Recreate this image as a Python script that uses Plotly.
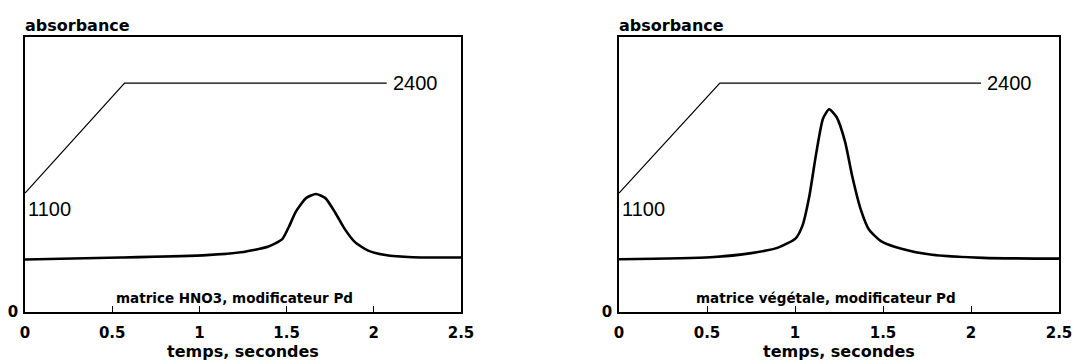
import plotly.graph_objects as go

# ---- data ----
# temperature programme (°C) : times (s) and values
temp_t_left = [0.0, 0.571, 2.074]
temp_v_left = [1100, 2400, 2400]
temp_t_right = [0.0, 0.573, 2.057]
temp_v_right = [1100, 2400, 2400]

# absorbance signal (arbitrary units), matrice HNO3
abs_t_left = [0.0, 0.548, 1.041, 1.238, 1.396, 1.475, 1.514, 1.554, 1.613, 1.668,
              1.721, 1.780, 1.830, 1.889, 1.968, 2.066, 2.224, 2.5]
abs_v_left = [0.191, 0.198, 0.207, 0.217, 0.238, 0.265, 0.311, 0.366, 0.415, 0.429,
              0.415, 0.360, 0.305, 0.256, 0.223, 0.207, 0.199, 0.198]

# absorbance signal (arbitrary units), matrice végétale
abs_t_right = [0.0, 0.519, 0.752, 0.907, 1.004, 1.043, 1.081, 1.120, 1.159, 1.194,
               1.236, 1.285, 1.324, 1.372, 1.420, 1.488, 1.605, 1.779, 2.070, 2.5]
abs_v_right = [0.192, 0.199, 0.214, 0.235, 0.268, 0.315, 0.420, 0.575, 0.703, 0.737,
               0.709, 0.618, 0.497, 0.376, 0.300, 0.258, 0.230, 0.208, 0.197, 0.194]

x_ticks = [0, 0.5, 1, 1.5, 2, 2.5]
x_ticktext = ["0", "0.5", "1", "1.5", "2", "2.5"]
panel_labels = ["matrice HNO3, modificateur Pd", "matrice végétale, modificateur Pd"]
label_t = [1.20, 1.175]
x_title = "temps, secondes"
y_title = "absorbance"

W, H = 1074, 364
TOP, BOT = 37, 312
ABS_RANGE = [0, 1]
TEMP_RANGE = [-306, 2944]

fig = go.Figure()
line_abs = dict(color="black", width=2.6, shape="spline", smoothing=0.6)
line_temp = dict(color="black", width=1.2)

fig.add_trace(go.Scatter(x=abs_t_left, y=abs_v_left, mode="lines", line=line_abs,
                         xaxis="x", yaxis="y", showlegend=False, hoverinfo="skip"))
fig.add_trace(go.Scatter(x=temp_t_left, y=temp_v_left, mode="lines", line=line_temp,
                         xaxis="x", yaxis="y3", showlegend=False, hoverinfo="skip"))
fig.add_trace(go.Scatter(x=abs_t_right, y=abs_v_right, mode="lines", line=line_abs,
                         xaxis="x2", yaxis="y2", showlegend=False, hoverinfo="skip"))
fig.add_trace(go.Scatter(x=temp_t_right, y=temp_v_right, mode="lines", line=line_temp,
                         xaxis="x2", yaxis="y4", showlegend=False, hoverinfo="skip"))

ydom = [1 - BOT / H, 1 - TOP / H]
tickfont = dict(family="DejaVu Sans", size=15, color="black", weight="bold")

def xax(domain, anchor):
    return dict(domain=domain, anchor=anchor, range=[0, 2.5], tickvals=x_ticks,
                ticktext=x_ticktext, ticks="inside", ticklen=6, tickwidth=1.2,
                tickcolor="black", showline=True, linecolor="black", linewidth=1.5,
                mirror=True, showgrid=False, zeroline=False, tickfont=tickfont,
                ticklabelstandoff=6, automargin=False)

def yax(anchor):
    return dict(domain=ydom, anchor=anchor, range=ABS_RANGE, tickvals=[0],
                ticktext=["0"], ticks="", showline=True, linecolor="black",
                linewidth=1.5, mirror=True, showgrid=False, zeroline=False,
                tickfont=tickfont, ticklabelstandoff=2, automargin=False)

fig.update_layout(
    width=W, height=H,
    margin=dict(l=0, r=0, t=0, b=0),
    paper_bgcolor="white", plot_bgcolor="white",
    xaxis=xax([25 / W, 461 / W], "y"),
    xaxis2=xax([619 / W, 1059 / W], "y2"),
    yaxis=yax("x"),
    yaxis2=yax("x2"),
    yaxis3=dict(overlaying="y", anchor="x", range=TEMP_RANGE, visible=False),
    yaxis4=dict(overlaying="y2", anchor="x2", range=TEMP_RANGE, visible=False),
)

ann = []
for i, (xr, yr, ytemp, tt, tv) in enumerate([("x", "y", "y3", temp_t_left, temp_v_left),
                                             ("x2", "y2", "y4", temp_t_right, temp_v_right)]):
    ann.append(dict(x=tt[0], y=tv[0], xref=xr, yref=ytemp, text=str(tv[0]),
                    xanchor="left", yanchor="middle", xshift=1, yshift=-16,
                    showarrow=False, font=dict(family="Liberation Sans", size=20, color="black")))
    ann.append(dict(x=tt[-1], y=tv[-1], xref=xr, yref=ytemp, text=str(tv[-1]),
                    xanchor="left", yanchor="middle", xshift=4, yshift=0,
                    showarrow=False, font=dict(family="Liberation Sans", size=20, color="black")))
    ann.append(dict(x=label_t[i], y=0.051, xref=xr, yref=yr, text=panel_labels[i],
                    xanchor="center", yanchor="middle", showarrow=False,
                    font=dict(family="DejaVu Sans", size=13.5, color="black", weight="bold")))
    ann.append(dict(x=(23 if i == 0 else 617) / W, y=1 - 26 / H, xref="paper", yref="paper",
                    text=y_title, xanchor="left", yanchor="middle", showarrow=False,
                    font=dict(family="DejaVu Sans", size=16, color="black", weight="bold")))
    # x-axis title, centred under each panel
    ann.append(dict(x=0.5, y=1 - 363 / H, xref=f"{xr} domain", yref="paper",
                    text=x_title, xanchor="center", yanchor="bottom", showarrow=False,
                    font=dict(family="DejaVu Sans", size=16, color="black", weight="bold")))
fig.update_layout(annotations=ann, hovermode=False)

fig.write_html("out.html", config={"displayModeBar": False},
               post_script="document.body.style.margin='0px';document.body.style.padding='0px';")
